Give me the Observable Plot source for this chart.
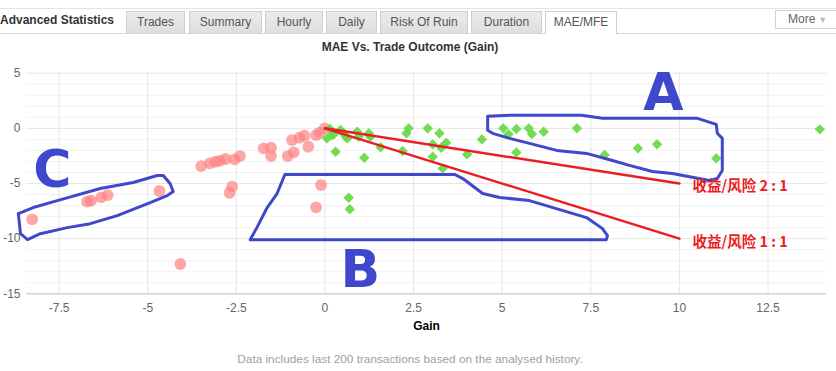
<!DOCTYPE html>
<html>
<head>
<meta charset="utf-8">
<script src="https://cdn.jsdelivr.net/npm/d3@7"></script>
<script src="https://cdn.jsdelivr.net/npm/@observablehq/plot@0.6"></script>
<style>
  html, body { margin: 0; padding: 0; background: #fff; }
  body { width: 836px; height: 371px; overflow: hidden; position: relative; font-family: "Liberation Sans", Arial, sans-serif; }
  #bar { position: absolute; left: 0; top: 0; width: 836px; height: 34px; }
  #bar .topline { position: absolute; left: 0; top: 8px; width: 836px; height: 1px; background: #e4e4e4; }
  #bar .botline { position: absolute; left: 0; top: 33px; width: 836px; height: 1px; background: #d8d8d8; }
  #bar .brand { position: absolute; left: 0px; top: 13px; font-weight: bold; font-size: 12px; color: #333; white-space: nowrap; }
  #bar .tab { position: absolute; top: 11px; height: 22px; box-sizing: border-box; border: 1px solid #cfcfcf; border-bottom: none;
              background: linear-gradient(#ececec, #dedede); color: #555; font-size: 12px; line-height: 21px; text-align: center; white-space: nowrap; }
  #bar .tab.active { background: #fff; height: 23px; }
  #bar .more { position: absolute; left: 775px; top: 10px; width: 62px; height: 19px; box-sizing: border-box; border: 1px solid #d4d4d4;
               background: #fff; color: #666; font-size: 12px; line-height: 17px; padding-left: 12px; }
  #bar .more span { color: #bbb; font-size: 9px; margin-left: 3px; }
  #title { position: absolute; left: 0; top: 39px; width: 836px; text-align: center; font-weight: bold; font-size: 12px; color: #333; line-height: 16px; padding-right: 16px; box-sizing: border-box; }
  #chart { position: absolute; left: 0; top: 56px; }
  #caption { position: absolute; left: 0; top: 352px; width: 836px; text-align: center; font-size: 11.8px; color: #a0a0a0; line-height: 15px; padding-right: 16px; box-sizing: border-box; }
</style>
</head>
<body>
<div id="bar">
  <div class="topline"></div>
  <div class="botline"></div>
  <div class="brand">Advanced Statistics</div>
  <div class="tab" style="left:126px;width:59px;">Trades</div>
  <div class="tab" style="left:189px;width:73px;">Summary</div>
  <div class="tab" style="left:265px;width:58px;">Hourly</div>
  <div class="tab" style="left:326px;width:51px;">Daily</div>
  <div class="tab" style="left:380px;width:88px;">Risk Of Ruin</div>
  <div class="tab" style="left:471px;width:71px;">Duration</div>
  <div class="tab active" style="left:545px;width:72px;">MAE/MFE</div>
  <div class="more">More<span>▼</span></div>
</div>
<div id="title">MAE Vs. Trade Outcome (Gain)</div>
<div id="chart"></div>
<div id="caption">Data includes last 200 transactions based on the analysed history.</div>
<script>
// ---- data ----
const xTicks = [-7.5, -5, -2.5, 0, 2.5, 5, 7.5, 10, 12.5];
const yTicks = [5, 0, -5, -10, -15];
const yMinorTicks = [4, 3, 2, 1, -1, -2, -3, -4, -6, -7, -8, -9, -11, -12, -13, -14];

// losing trades: gain and MAE
const lossGain = [-8.26, -6.71, -6.60, -6.31, -6.13, -4.67, -4.08, -3.49, -3.25, -3.09, -2.97, -2.81, -2.55, -2.40, -2.62, -2.69,
                  -1.73, -1.52, -1.52, -1.05, -0.88, -0.93, -0.72, -0.58, -0.47, -0.25, -0.01, -0.11, -0.25, -0.15];
const lossMAE  = [-8.25, -6.65, -6.56, -6.26, -6.05, -5.68, -12.3, -3.42, -3.17, -3.03, -2.94, -2.78, -2.81, -2.51, -5.29, -5.84,
                  -1.81, -1.76, -2.51, -2.51, -2.18, -1.06, -0.85, -0.67, -1.67, -0.61, 0, -5.14, -7.16, -0.4];

// winning trades: gain and MAE
const winGain = [0.14, 0.20, 0.06, 0.44, 0.53, 0.63, 0.30, 0.91, 0.95, 1.11, 1.28, 1.57, 0.67, 0.70, 2.19, 2.30, 2.36, 2.90, 3.23, 3.04,
                 3.28, 3.42, 3.04, 3.32, 4.01, 4.43, 5.03, 5.18, 5.40, 5.40, 5.75, 5.84, 6.17, 7.11, 7.89, 8.83, 9.37, 11.04, 13.96, 0.25, 0.58, 1.24];
const winMAE  = [-0.06, -0.61, -0.91, -0.15, -0.45, -0.91, -2.12, -0.31, -0.76, -2.67, -0.76, -1.72, -6.29, -7.34, -2.06, -0.45, 0, 0, -0.45, -1.45,
                 -1.76, -1.31, -2.57, -3.63, -2.36, -1.0, 0, -0.54, -0.06, -2.18, 0, -0.52, -0.31, 0, -2.42, -1.81, -1.45, -2.72, -0.09, -0.54, -0.70, -0.45];

// reward/risk reference lines
const ratioGain = [0, 10];
const ratio21MAE = [0, -5];
const ratio11MAE = [0, -10];
const ratioLabels = ["收益/风险 2 : 1", "收益/风险 1 : 1"];
const ratioLabelGain = [10.37, 10.37];
const ratioLabelMAE = [-5.3, -10.3];

// hand-drawn annotation regions
const shapeAGain = [4.59, 5.21, 7.24, 7.83, 10.51, 11.04, 11.07, 11.21, 11.21, 11.07, 10.85, 9.80, 9.24, 8.59, 8.11, 7.38, 6.54, 5.77, 5.21, 4.73, 4.59, 4.59];
const shapeAMAE  = [1.09, 1.18, 1.18, 0.91, 0.91, 0.36, -0.45, -0.91, -3.82, -4.55, -4.73, -4.09, -3.91, -3.36, -2.91, -2.27, -2.0, -1.36, -0.91, -0.45, -0.18, 1.09];
const shapeBGain = [-1.13, 3.66, 3.89, 4.45, 4.93, 5.77, 7.38, 7.83, 7.97, 7.94, -2.11, -1.92, -1.63, -1.35, -1.13];
const shapeBMAE  = [-4.18, -4.18, -4.55, -5.91, -6.27, -6.55, -8.09, -9.09, -9.73, -10.09, -10.09, -9.0, -7.18, -5.91, -4.18];
const shapeCGain = [-8.65, -8.59, -8.39, -8.03, -7.27, -6.62, -5.86, -4.93, -4.45, -4.28, -4.37, -4.56, -4.73, -5.41, -6.34, -7.55, -8.23, -8.65];
const shapeCMAE  = [-7.73, -9.55, -10.09, -9.55, -9.0, -8.64, -7.91, -6.73, -6.09, -5.73, -5.0, -4.27, -4.27, -4.91, -5.45, -6.55, -7.18, -7.73];
const letters = ["A", "B", "C"];
const letterGain = [9.55, 1.0, -7.69];
const letterMAE = [3.2, -12.85, -3.78];

// ---- build tables ----
const losses = lossGain.map((g, i) => ({gain: g, mae: lossMAE[i]}));
const wins = winGain.map((g, i) => ({gain: g, mae: winMAE[i]}));
const ratioLines = [
  ...ratioGain.map((g, i) => ({id: "2:1", gain: g, mae: ratio21MAE[i]})),
  ...ratioGain.map((g, i) => ({id: "1:1", gain: g, mae: ratio11MAE[i]}))
];
const shapes = [
  ...shapeAGain.map((g, i) => ({id: "A", gain: g, mae: shapeAMAE[i]})),
  ...shapeBGain.map((g, i) => ({id: "B", gain: g, mae: shapeBMAE[i]})),
  ...shapeCGain.map((g, i) => ({id: "C", gain: g, mae: shapeCMAE[i]}))
];
const labelRows = ratioLabels.map((t, i) => ({text: t, gain: ratioLabelGain[i], mae: ratioLabelMAE[i]}));
const letterRows = letters.map((t, i) => ({text: t, gain: letterGain[i], mae: letterMAE[i]}));

const fmt = d => String(d);

const chart = Plot.plot({
  width: 836,
  height: 284,
  marginTop: 16.7,
  marginBottom: 46.7,
  marginLeft: 26,
  marginRight: 10,
  x: {domain: [-8.42, 14.15], label: null},
  y: {domain: [-15, 5], label: null},
  style: {fontFamily: "'Liberation Sans', Arial, sans-serif", fontSize: "12px", color: "#666", overflow: "visible", background: "transparent"},
  marks: [
    Plot.gridY(yMinorTicks, {stroke: "#f2f2f2", strokeOpacity: 1}),
    Plot.gridY(yTicks, {stroke: "#e6e6e6", strokeOpacity: 1}),
    Plot.gridX(xTicks, {stroke: "#e6e6e6", strokeOpacity: 1}),
    Plot.ruleY([-15], {stroke: "#c0ccd8", strokeWidth: 1}),
    Plot.axisX(xTicks, {tickSize: 0, tickPadding: 10, tickFormat: fmt, fill: "#666", label: null}),
    Plot.axisY(yTicks, {tickSize: 0, tickPadding: 6, tickFormat: fmt, fill: "#666", label: null}),
    Plot.text(["Gain"], {frameAnchor: "bottom", dy: 36, fontWeight: "bold", fill: "#000", fontSize: 12}),
    Plot.dot(losses, {x: "gain", y: "mae", r: 5.9, fill: "#ff8282", fillOpacity: 0.7, stroke: "none"}),
    Plot.dot(wins, {x: "gain", y: "mae", symbol: "diamond2", r: 4.7, fill: "#66d944", fillOpacity: 0.92, stroke: "none"}),
    Plot.line(ratioLines, {x: "gain", y: "mae", z: "id", stroke: "#ed1c24", strokeWidth: 2.5}),
    Plot.line(shapes, {x: "gain", y: "mae", z: "id", stroke: "#3f48cc", strokeWidth: 3, strokeLinejoin: "round"}),
    Plot.text(letterRows, {x: "gain", y: "mae", text: "text", fontFamily: "'DejaVu Sans', sans-serif", fontWeight: "bold", fontSize: 52, fill: "#3f48cc"}),
    Plot.text(labelRows, {x: "gain", y: "mae", text: "text", textAnchor: "start", fontFamily: "'Noto Sans CJK SC', sans-serif", fontWeight: "bold", fontSize: 14.5, fill: "#ed1c24"})
  ]
});
document.getElementById("chart").appendChild(chart);
</script>
</body>
</html>
